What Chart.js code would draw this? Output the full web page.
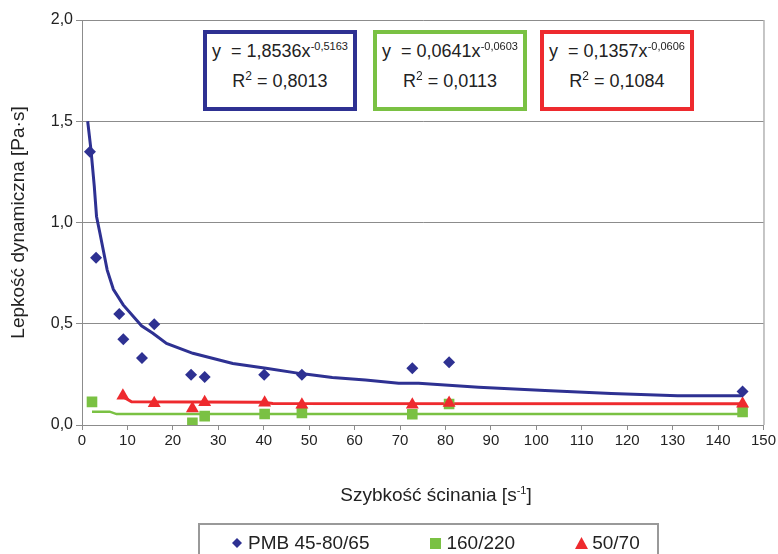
<!DOCTYPE html>
<html>
<head>
<meta charset="utf-8">
<script src="https://cdn.jsdelivr.net/npm/chart.js@4.4.0/dist/chart.umd.min.js"></script>
<style>
  body { margin: 0; background: #fff; overflow: hidden; font-family: "Liberation Sans", Arial, sans-serif; color: #222; }
  #wrap { position: relative; width: 778px; height: 554px; overflow: hidden; }
  #chart { position: absolute; left: 0; top: 0; }
  .eq { position: absolute; top: 30px; width: 154px; height: 81px; box-sizing: border-box; border: 4px solid; background: #fff;
        text-align: center; font-size: 18px; line-height: 30px; padding-top: 2px; white-space: nowrap; }
  .eq sup, .xtitle sup { font-size: 11px; line-height: 0; position: relative; top: -0.6em; vertical-align: baseline; }
  .eq .r2 { font-size: 12px; }
  .xtitle { position: absolute; left: 236px; top: 483px; width: 400px; text-align: center; font-size: 19px; line-height: 24px; }
  .legend { position: absolute; left: 198px; top: 523px; width: 461px; height: 40px; box-sizing: border-box; border: 2px solid #999;
            display: flex; padding-left: 31px; gap: 60px; font-size: 19px; line-height: 26px; }
  .legend span { display: flex; align-items: center; }
  .legend svg { margin-right: 4px; }
</style>
</head>
<body>
<div id="wrap">
  <canvas id="chart" width="778" height="554"></canvas>
  <div class="eq" style="left:203px;border-color:#2e3192">y &nbsp;= 1,8536x<sup>-0,5163</sup><br>R<sup class="r2">2</sup> = 0,8013</div>
  <div class="eq" style="left:373px;border-color:#7ac143">y &nbsp;= 0,0641x<sup>-0,0603</sup><br>R<sup class="r2">2</sup> = 0,0113</div>
  <div class="eq" style="left:540px;border-color:#ee2a2e">y &nbsp;= 0,1357x<sup>-0,0606</sup><br>R<sup class="r2">2</sup> = 0,1084</div>
  <div class="xtitle">Szybkość ścinania [s<sup>-1</sup>]</div>
  <div class="legend" id="legend"></div>
</div>
<script>
/* measured points */
const pmbX = [1.75, 3.1, 8.2, 9.1, 13.2, 15.9, 24.0, 27.0, 40.1, 48.4, 72.7, 80.8, 145.4];
const pmbY = [1.35, 0.826, 0.548, 0.423, 0.331, 0.497, 0.248, 0.237, 0.248, 0.248, 0.28, 0.31, 0.165];

const b160X = [2.2, 24.3, 27.0, 40.2, 48.4, 72.7, 80.8, 145.4];
const b160Y = [0.114, 0.011, 0.044, 0.054, 0.06, 0.053, 0.104, 0.065];

const b50X = [9.0, 15.9, 24.3, 27.0, 40.2, 48.4, 72.7, 80.8, 145.4];
const b50Y = [0.145, 0.108, 0.082, 0.112, 0.11, 0.1, 0.1, 0.109, 0.105];

/* power trend lines */
const fitPmbX = [1.25, 1.97, 2.7, 3.2, 3.95, 5.55, 6.9, 9.07, 13.1, 15.6, 18.6, 24.4, 33.2, 40.5, 47.8, 55.1, 62.4, 69.7, 74.1, 87.3, 101.9, 116.5, 131.1, 145.4];
const fitPmbY = [1.5, 1.36, 1.18, 1.03, 0.947, 0.765, 0.67, 0.593, 0.49, 0.453, 0.403, 0.354, 0.304, 0.28, 0.255, 0.235, 0.222, 0.206, 0.206, 0.186, 0.17, 0.156, 0.145, 0.145];

const fit160X = [2.2, 6.1, 7.6, 145.4];
const fit160Y = [0.066, 0.066, 0.054, 0.054];

const fit50X = [9.0, 10.9, 39.7, 42.0, 145.4];
const fit50Y = [0.14, 0.115, 0.112, 0.106, 0.105];

const xTicks = [0, 150, 10];
const yTicks = [0, 2, 0.5];

const BLUE = "#2e3192";
const GREEN = "#7ac143";
const RED = "#ee2a2e";

function pts(xs, ys) {
  return xs.map((x, i) => ({ x: x, y: ys[i] }));
}

function markerSet(label, xs, ys, color, style, radius, order) {
  return {
    label: label,
    data: pts(xs, ys),
    pointStyle: style,
    pointRadius: radius,
    backgroundColor: color,
    borderColor: color,
    borderWidth: 0,
    order: order,
  };
}

function trendSet(label, xs, ys, color, width) {
  return {
    label: label,
    data: pts(xs, ys),
    showLine: true,
    borderColor: color,
    borderWidth: width,
    pointRadius: 0,
    tension: 0,
    order: 10,
    trend: true,
  };
}

const datasets = [
  markerSet("PMB 45-80/65", pmbX, pmbY, BLUE, "rectRot", 6, 1),
  markerSet("160/220", b160X, b160Y, GREEN, "rect", 7.5, 3),
  markerSet("50/70", b50X, b50Y, RED, "triangle", 7.5, 2),
  trendSet("Potęgowy (PMB 45-80/65)", fitPmbX, fitPmbY, BLUE, 3),
  trendSet("Potęgowy (160/220)", fit160X, fit160Y, GREEN, 2.5),
  trendSet("Potęgowy (50/70)", fit50X, fit50Y, RED, 3),
];

/* right frame line of the plot */
const frame = {
  id: "frame",
  afterDraw(chart) {
    const { ctx, chartArea } = chart;
    ctx.save();
    ctx.strokeStyle = "#8c8c8c";
    ctx.lineWidth = 1;
    ctx.beginPath();
    ctx.moveTo(chartArea.right + 0.5, chartArea.top);
    ctx.lineTo(chartArea.right + 0.5, chartArea.bottom);
    ctx.stroke();
    ctx.restore();
  },
};

const ctx = document.getElementById("chart").getContext("2d");

const chart = new Chart(ctx, {
  type: "scatter",
  data: { datasets: datasets },
  plugins: [frame],
  options: {
    responsive: false,
    animation: false,
    devicePixelRatio: 1,
    layout: { padding: { left: 0, top: 20, right: 12, bottom: 0 } },
    plugins: {
      legend: { display: false },
      tooltip: { enabled: false },
    },
    scales: {
      x: {
        type: "linear",
        min: xTicks[0],
        max: xTicks[1],
        afterFit: (s) => { s.height = 129; },
        ticks: {
          stepSize: xTicks[2],
          color: "#222",
          padding: 2,
          maxRotation: 0,
          font: { family: "Liberation Sans", size: 15 },
        },
        grid: { drawOnChartArea: false, drawTicks: true, tickLength: 5, color: "#8c8c8c" },
        border: { color: "#8c8c8c" },
      },
      y: {
        min: yTicks[0],
        max: yTicks[1],
        afterFit: (s) => { s.width = 82; },
        ticks: {
          stepSize: yTicks[2],
          color: "#222",
          padding: 3,
          font: { family: "Liberation Sans", size: 16 },
          callback: (v) => v.toFixed(1).replace(".", ","),
        },
        grid: { color: "#8c8c8c", tickLength: 6 },
        border: { color: "#8c8c8c" },
        title: {
          display: true,
          text: "Lepkość dynamiczna [Pa·s]",
          color: "#222",
          font: { family: "Liberation Sans", size: 19 },
          padding: { top: 7, bottom: 0 },
        },
      },
    },
  },
});

/* legend built from the marker datasets */
function markerSvg(style, color) {
  let shape = "";
  if (style === "rectRot") shape = `<polygon points="6,1 11,6 6,11 1,6" fill="${color}"/>`;
  else if (style === "rect") shape = `<rect x="1" y="1" width="11" height="11" fill="${color}"/>`;
  else shape = `<polygon points="6.5,0 13,12 0,12" fill="${color}"/>`;
  return `<svg width="13" height="13" viewBox="0 0 13 13">${shape}</svg>`;
}

const legendBox = document.getElementById("legend");
datasets.filter((d) => !d.trend).forEach((d) => {
  const item = document.createElement("span");
  item.innerHTML = markerSvg(d.pointStyle, d.backgroundColor) + d.label;
  legendBox.appendChild(item);
});
</script>
</body>
</html>
